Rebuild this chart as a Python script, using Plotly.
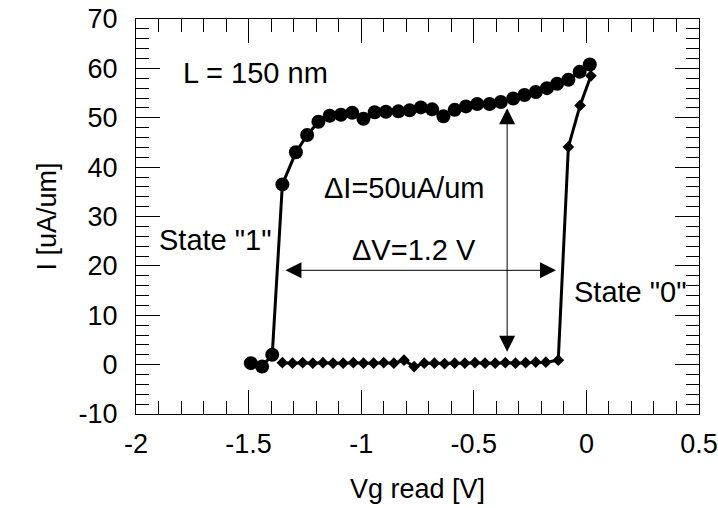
import plotly.graph_objects as go

# Upper branch (circles) - state "1"
circ_x = [-1.49, -1.44, -1.395, -1.35, -1.29, -1.24, -1.19, -1.14, -1.09, -1.04,
          -0.99, -0.94, -0.89, -0.835, -0.785, -0.735, -0.685, -0.635, -0.585, -0.535,
          -0.485, -0.43, -0.38, -0.325, -0.275, -0.225, -0.175, -0.13, -0.08, -0.03, 0.015]
circ_y = [0.3, -0.4, 2.0, 36.5, 43.0, 46.5, 49.2, 50.4, 50.6, 51.0,
          49.8, 51.1, 51.2, 51.3, 51.5, 52.1, 51.7, 50.3, 51.6, 52.3,
          52.8, 52.8, 53.2, 53.9, 54.6, 55.2, 56.0, 56.9, 57.7, 59.3, 60.8]

# Lower branch (diamonds) - state "0"
diam_x = [-1.35, -1.305, -1.26, -1.215, -1.17, -1.125, -1.08, -1.035, -0.99, -0.945,
          -0.90, -0.855, -0.81, -0.765, -0.72, -0.675, -0.63, -0.585, -0.54, -0.495,
          -0.45, -0.405, -0.36, -0.315, -0.27, -0.225, -0.18, -0.125, -0.08, -0.028, 0.02]
diam_y = [0.4, 0.3, 0.4, 0.3, 0.4, 0.3, 0.3, 0.4, 0.3, 0.3,
          0.4, 0.3, 0.9, -0.4, 0.3, 0.3, 0.2, 0.3, 0.3, 0.4,
          0.3, 0.3, 0.4, 0.3, 0.4, 0.5, 0.5, 0.9, 44.1, 52.5, 58.5]

# Tick labels
x_tickvals = [-2, -1.5, -1, -0.5, 0, 0.5]
x_ticktext = ["-2", "-1.5", "-1", "-0.5", "0", "0.5"]
y_tickvals = [-10, 0, 10, 20, 30, 40, 50, 60, 70]
y_ticktext = ["-10", "0", "10", "20", "30", "40", "50", "60", "70"]

# Annotation arrows (data coordinates)
dv_arrow_x = [-1.343, -0.135]
dv_arrow_y = 19.1
di_arrow_x = -0.352
di_arrow_y = [51.9, 2.3]

FONT = "Liberation Sans, Arial, sans-serif"
FS = 27
FS_NOTE = 29

fig = go.Figure()
fig.add_trace(go.Scatter(x=diam_x, y=diam_y, mode="lines+markers",
                         line=dict(color="black", width=3),
                         marker=dict(symbol="diamond", size=9, color="black"),
                         showlegend=False))
fig.add_trace(go.Scatter(x=circ_x, y=circ_y, mode="lines+markers",
                         line=dict(color="black", width=3),
                         marker=dict(symbol="circle", size=14, color="black"),
                         showlegend=False))

def dbl_arrow(x0, y0, x1, y1):
    fig.add_annotation(x=x1, y=y1, ax=x0, ay=y0, xref="x", yref="y",
                       axref="x", ayref="y", text="", showarrow=True,
                       arrowhead=2, startarrowhead=2, arrowside="end+start",
                       arrowsize=3.2, startarrowsize=3.2, arrowwidth=1,
                       arrowcolor="black", standoff=0, startstandoff=0)

dbl_arrow(dv_arrow_x[0], dv_arrow_y, dv_arrow_x[1], dv_arrow_y)
dbl_arrow(di_arrow_x, di_arrow_y[1], di_arrow_x, di_arrow_y[0])

def label(x, y, t, anchor="center"):
    fig.add_annotation(x=x, y=y, xref="x", yref="y", text=t, showarrow=False,
                       xanchor=anchor, yanchor="middle",
                       font=dict(family=FONT, size=FS_NOTE, color="black"))

label(-1.80, 59.0, "L = 150 nm", "left")
label(-0.810, 35.7, "ΔI=50uA/um")
label(-0.766, 23.2, "ΔV=1.2 V")
label(-1.645, 25.2, "State \"1\"")
label(0.194, 14.7, "State \"0\"")

axis_common = dict(showline=True, linecolor="black", linewidth=1, mirror="allticks",
                   ticks="inside", ticklen=24, tickwidth=1, tickcolor="black",
                   showgrid=False, zeroline=False, automargin=False,
                   tickfont=dict(family=FONT, size=FS, color="black"))

fig.update_xaxes(range=[-2, 0.5], tickmode="array", tickvals=x_tickvals, ticktext=x_ticktext,
                 minor=dict(dtick=0.1, tick0=-2, ticks="inside", ticklen=13, tickcolor="black", showgrid=False),
                 ticklabelstandoff=6,
                 title=dict(text="Vg read [V]", font=dict(family=FONT, size=FS, color="black"), standoff=20),
                 **axis_common)
fig.update_yaxes(range=[-10, 70], tickmode="array", tickvals=y_tickvals, ticktext=y_ticktext,
                 minor=dict(dtick=2, tick0=-10, ticks="inside", ticklen=13, tickcolor="black", showgrid=False),
                 ticklabelstandoff=12,
                 title=dict(text="I [uA/um]", font=dict(family=FONT, size=FS, color="black"), standoff=14),
                 **axis_common)

fig.update_layout(width=718, height=508, margin=dict(l=136, r=19, t=19, b=94),
                  plot_bgcolor="white", paper_bgcolor="white",
                  font=dict(family=FONT, size=FS, color="black"))

fig.write_html("out.html", config={"displayModeBar": False},
               post_script="document.body.style.margin='0px';")
